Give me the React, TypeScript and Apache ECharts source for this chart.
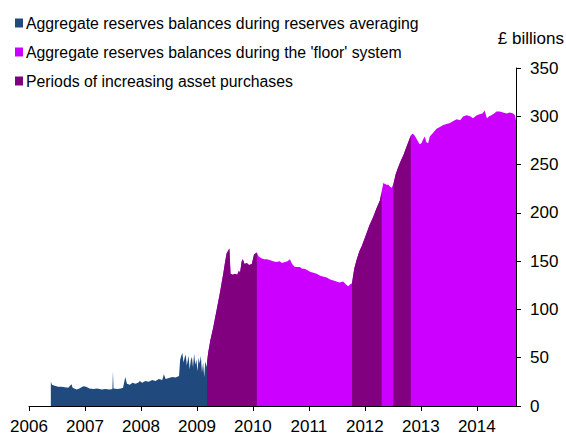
import React, { useEffect, useRef } from "react";
import * as echarts from "echarts";

// [decimal year, £ billions]
const averagingData: [number, number][] = [
  [2006.39, 25], [2006.41, 22], [2006.46, 21], [2006.52, 20], [2006.58, 20], [2006.64, 19.5],
  [2006.70, 19], [2006.76, 22.5], [2006.78, 19], [2006.85, 17], [2006.90, 18], [2006.97, 20.5],
  [2007.02, 20], [2007.08, 18], [2007.15, 17.5], [2007.22, 18], [2007.30, 17], [2007.36, 17.5],
  [2007.44, 17], [2007.49, 17.5], [2007.50, 36], [2007.51, 18], [2007.58, 17.5], [2007.64, 18],
  [2007.68, 19], [2007.72, 30], [2007.75, 23], [2007.80, 22], [2007.85, 24], [2007.90, 23],
  [2007.95, 24], [2007.98, 26], [2008.02, 24], [2008.08, 26], [2008.14, 25], [2008.20, 27],
  [2008.26, 26], [2008.32, 28], [2008.38, 27], [2008.41, 33], [2008.44, 28], [2008.50, 29],
  [2008.56, 30], [2008.62, 29.5], [2008.68, 31], [2008.70, 48], [2008.72, 52], [2008.74, 55],
  [2008.76, 45], [2008.78, 50], [2008.80, 53], [2008.82, 42], [2008.85, 52], [2008.87, 38],
  [2008.89, 47], [2008.91, 51], [2008.93, 40], [2008.95, 54], [2008.97, 43], [2008.99, 48],
  [2009.01, 36], [2009.03, 50], [2009.05, 44], [2009.07, 52], [2009.09, 35], [2009.11, 45],
  [2009.13, 30], [2009.15, 46], [2009.18, 40],
];

const floorData: [number, number][] = [
  [2009.18, 45], [2009.20, 55], [2009.24, 68], [2009.29, 81], [2009.35, 99], [2009.41, 117],
  [2009.47, 137], [2009.50, 148], [2009.53, 158], [2009.56, 161], [2009.58, 163], [2009.60, 137],
  [2009.64, 136], [2009.68, 137], [2009.72, 136], [2009.75, 140], [2009.77, 138], [2009.80, 150],
  [2009.82, 152], [2009.85, 147], [2009.89, 148], [2009.93, 146], [2009.98, 147], [2010.02, 157],
  [2010.07, 159], [2010.10, 155], [2010.15, 153], [2010.20, 152], [2010.25, 152], [2010.31, 151],
  [2010.36, 150], [2010.42, 149], [2010.48, 150], [2010.52, 148], [2010.57, 149], [2010.62, 150],
  [2010.66, 152], [2010.70, 147], [2010.75, 144], [2010.80, 144], [2010.84, 144], [2010.88, 142],
  [2010.92, 142], [2010.96, 141], [2011.02, 139], [2011.08, 138], [2011.14, 137], [2011.20, 135],
  [2011.25, 134], [2011.32, 133], [2011.38, 131], [2011.44, 130], [2011.49, 129], [2011.55, 128],
  [2011.61, 129], [2011.66, 126], [2011.70, 124], [2011.74, 126], [2011.77, 127], [2011.81, 142],
  [2011.85, 151], [2011.90, 160], [2011.94, 165], [2011.98, 171], [2012.03, 179], [2012.08, 187],
  [2012.15, 196], [2012.21, 205], [2012.27, 213], [2012.30, 222], [2012.33, 231], [2012.36, 230],
  [2012.39, 229], [2012.42, 229], [2012.45, 227], [2012.48, 226], [2012.51, 230], [2012.55, 240],
  [2012.60, 248], [2012.65, 255], [2012.69, 260], [2012.74, 268], [2012.78, 274], [2012.82, 280],
  [2012.85, 282], [2012.88, 281], [2012.92, 277], [2012.95, 274], [2012.98, 271], [2013.01, 272],
  [2013.04, 276], [2013.07, 279], [2013.10, 273], [2013.13, 272], [2013.16, 279], [2013.22, 283],
  [2013.28, 287], [2013.34, 289], [2013.40, 291], [2013.46, 292], [2013.52, 293], [2013.58, 295],
  [2013.64, 297], [2013.70, 296], [2013.76, 300], [2013.82, 301], [2013.88, 300], [2013.93, 298],
  [2014.00, 301], [2014.05, 302], [2014.10, 303], [2014.14, 306], [2014.18, 298], [2014.22, 300],
  [2014.26, 301], [2014.31, 303], [2014.35, 305], [2014.41, 305], [2014.47, 304], [2014.53, 303],
  [2014.59, 304], [2014.65, 303], [2014.68, 301], [2014.70, 296],
];

const purchasePeriods: [number, number][] = [
  [2009.18, 2010.07],
  [2011.77, 2012.30],
  [2012.51, 2012.82],
];

const yearTicks = [2006, 2007, 2008, 2009, 2010, 2011, 2012, 2013, 2014];

const seriesNames = [
  "Aggregate reserves balances during reserves averaging",
  "Aggregate reserves balances during the 'floor' system",
  "Periods of increasing asset purchases",
];

const COLORS = ["#204A7E", "#CC00FF", "#800080"];

function buildPurchaseData(): (number | string)[][] {
  const out: (number | string)[][] = [];
  purchasePeriods.forEach(([a, b], i) => {
    floorData.forEach(([x, y]) => {
      if (x >= a - 1e-9 && x <= b + 1e-9) out.push([x, y]);
    });
    if (i < purchasePeriods.length - 1) out.push([(b + purchasePeriods[i + 1][0]) / 2, "-"]);
  });
  return out;
}

export default function App() {
  const ref = useRef<HTMLDivElement>(null);
  useEffect(() => {
    if (!ref.current) return;
    const chart = echarts.init(ref.current, undefined, { renderer: "svg" });
    const font = "'Liberation Sans', Arial, sans-serif";
    const area = (name: string, data: any[], color: string) => ({
      name,
      type: "line",
      data,
      showSymbol: false,
      symbol: "none",
      connectNulls: false,
      color,
      lineStyle: { width: 0, color },
      itemStyle: { color },
      areaStyle: { color, opacity: 1 },
    });
    chart.setOption({
      animation: false,
      textStyle: { fontFamily: font },
      legend: {
        orient: "vertical",
        left: 15,
        top: 13,
        padding: 0,
        icon: "rect",
        itemWidth: 8,
        itemHeight: 9,
        itemGap: 9,
        data: seriesNames,
        textStyle: { fontSize: 15.8, color: "#000", lineHeight: 20, fontFamily: font, padding: [0, 0, 0, -2] },
        selectedMode: false,
      },
      graphic: [
        {
          type: "text",
          right: 2,
          top: 30,
          style: { text: "£ billions", fontSize: 17, fill: "#000", fontFamily: font },
        },
      ],
      grid: { left: 29, right: 50, top: 68, bottom: 29, containLabel: false },
      xAxis: {
        type: "value",
        min: 2006,
        max: 2014.7,
        interval: 1,
        axisLine: { show: true, lineStyle: { color: "#000", width: 1 } },
        axisTick: { show: true, length: 5, lineStyle: { color: "#000" } },
        splitLine: { show: false },
        axisLabel: {
          fontSize: 17,
          color: "#000",
          margin: 12,
          fontFamily: font,
          formatter: (v: number) => (yearTicks.includes(Math.round(v)) && Math.abs(v - Math.round(v)) < 1e-6 ? String(Math.round(v)) : ""),
          showMaxLabel: false,
        },
      },
      yAxis: {
        type: "value",
        position: "right",
        min: 0,
        max: 350,
        interval: 50,
        axisLine: { show: true, lineStyle: { color: "#000", width: 1 } },
        axisTick: { show: true, length: 5, lineStyle: { color: "#000" } },
        splitLine: { show: false },
        axisLabel: { fontSize: 17, color: "#000", margin: 14, fontFamily: font },
      },
      series: [
        area(seriesNames[0], averagingData, COLORS[0]),
        area(seriesNames[1], floorData, COLORS[1]),
        area(seriesNames[2], buildPurchaseData(), COLORS[2]),
      ],
    });
    return () => chart.dispose();
  }, []);
  return (
    <div
      ref={ref}
      style={{ position: "absolute", left: 0, top: 0, width: 566, height: 435, background: "#fff" }}
    />
  );
}
